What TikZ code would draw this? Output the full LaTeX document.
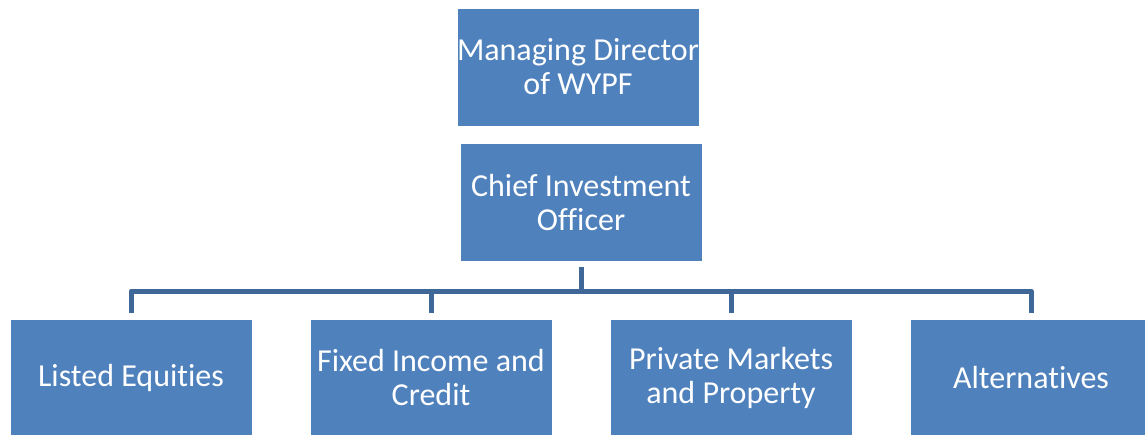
\documentclass[tikz,border=0pt]{standalone}
\usepackage{fontspec}
\setmainfont[Ligatures=CommonOff]{Carlito}
\usetikzlibrary{positioning, calc}

\definecolor{boxblue}{HTML}{4F81BD}
\definecolor{linkblue}{HTML}{3F6898}

\begin{document}
\begin{tikzpicture}[
    x=1pt, y=-1pt,
    every node/.style={font=\fontsize{32}{34}\selectfont}, % 统一字体
    unit/.style={fill=boxblue, draw=white, line width=0.8pt, text=white,
        minimum width=242pt, minimum height=118pt, inner sep=0pt, align=center}, % 方框
    link/.style={linkblue, line width=5pt, line join=round} % 连接线
]
    % 1. 画布大小
    \useasboundingbox (0,0) rectangle (1145,434);
    \clip (0,0) rectangle (1145,434);

    % 2. 上面两层
    \node[unit] (md)  at (578,67)  {Managing Director\\of WYPF};
    \node[unit] (cio) at (581,202) {Chief Investment\\Officer};

    % 3. 下面一层
    \node[unit] (equities) at (131,378)  {Listed Equities};
    \node[unit] (income)   at (431,378)  {Fixed Income and\\Credit};
    \node[unit] (private)  at (731,378)  {Private Markets\\and Property};
    \node[unit] (alt)      at (1031,378) {Alternatives};

    % 4. 连接线
    \coordinate (bus) at (581,291);
    \draw[link] ([yshift=-6]cio.south) -- (bus);
    \foreach \u in {equities,income,private,alt} {
        \draw[link] (bus) -| ([yshift=6]\u.north);
    }

\end{tikzpicture}
\end{document}
